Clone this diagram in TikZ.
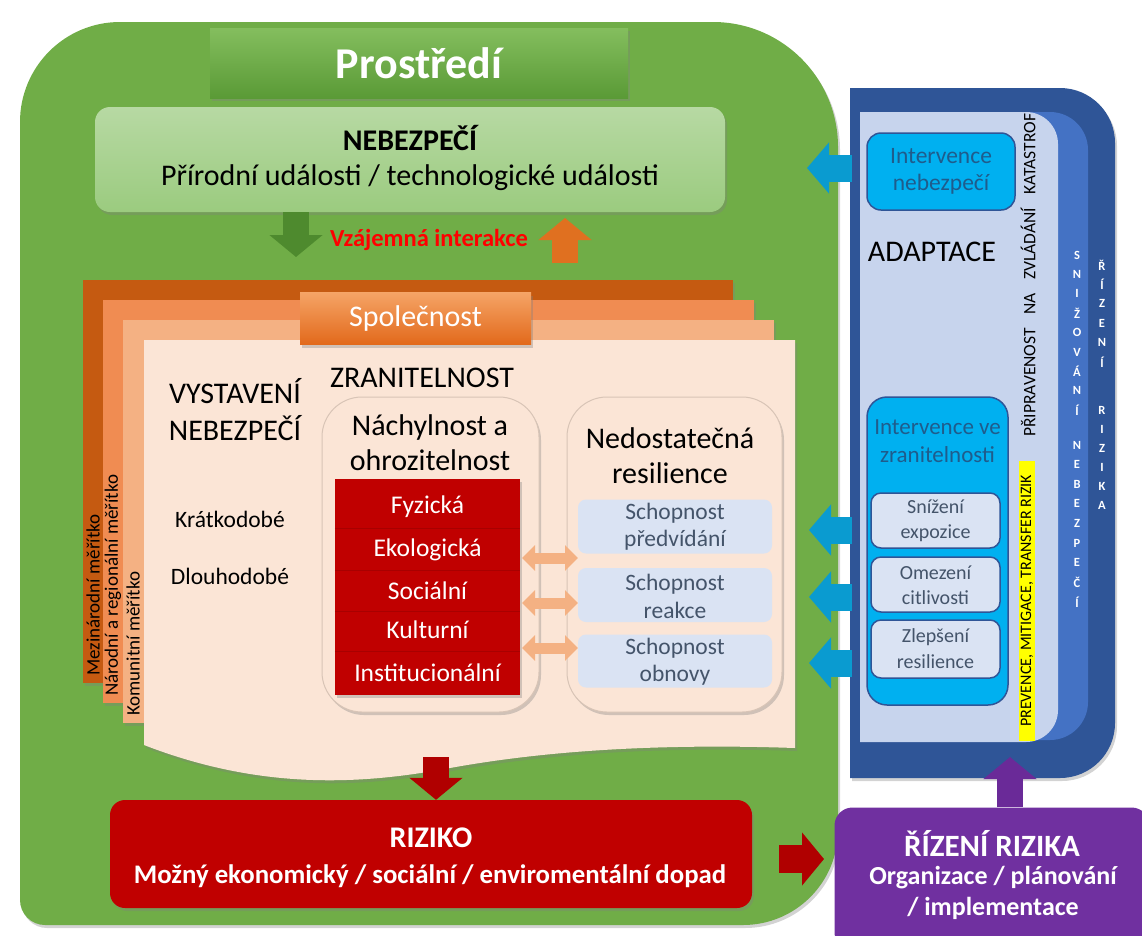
\documentclass[tikz,border=0pt]{standalone}
\usepackage{fontspec}
\setmainfont{Carlito}
\usetikzlibrary{arrows.meta,shadows,calc}
\definecolor{envgreen}{HTML}{70AD47}
\definecolor{hdrtop}{HTML}{84BE5E}
\definecolor{hdrbot}{HTML}{5A9A36}
\definecolor{nebtop}{HTML}{B7D9A3}
\definecolor{nebbot}{HTML}{9BCB7F}
\definecolor{pgA}{HTML}{C55A11}
\definecolor{pgB}{HTML}{F08C52}
\definecolor{pgC}{HTML}{F4B183}
\definecolor{pgD}{HTML}{FBE5D6}
\definecolor{spoltop}{HTML}{F5A466}
\definecolor{spolbot}{HTML}{E2691B}
\definecolor{riskred}{HTML}{C00000}
\definecolor{lblue}{HTML}{DAE3F3}
\definecolor{slate}{HTML}{44546A}
\definecolor{dblue}{HTML}{2F5597}
\definecolor{mblue}{HTML}{4472C4}
\definecolor{pblue}{HTML}{C7D4ED}
\definecolor{cyanbox}{HTML}{00B0F0}
\definecolor{cyantext}{HTML}{1F5C8C}
\definecolor{purp}{HTML}{7030A0}
\definecolor{peach}{HTML}{F4B183}
\definecolor{arrblue}{HTML}{0A9BD0}
\definecolor{arrgreen}{HTML}{4E8A2E}
\definecolor{arrorange}{HTML}{E07020}
\definecolor{arrred}{HTML}{B00000}
\definecolor{arrpurp}{HTML}{6A2A98}
\definecolor{hiyellow}{HTML}{FFFF00}
\definecolor{edgegray}{HTML}{D8C4B6}
\definecolor{sepred}{HTML}{A80000}
\definecolor{vzred}{HTML}{FF0000}
\begin{document}
\begin{tikzpicture}[x=1pt,y=-1pt,
  lbl/.style={inner sep=0pt, align=center},
  soft/.style={drop shadow={opacity=0.35, shadow xshift=2pt, shadow yshift=-3pt}},
  blk/.style={line width=26pt, -{Triangle[width=52pt,length=22pt]}},
  barr/.style={line width=27pt, arrblue, -{Triangle[width=50pt,length=22pt]}},
  dbl/.style={line width=11pt, peach, {Triangle[width=25pt,length=13pt]}-{Triangle[width=25pt,length=13pt]}},
  boxr/.style={rounded corners=#1, inner sep=0pt},
  letter/.style={inner sep=0pt, text=white, font=\fontsize{12.5}{13}\selectfont\bfseries},
  redtxt/.style={lbl, text=white, font=\fontsize{25.5}{28}\selectfont},
  pagetxt/.style={lbl, rotate=90, anchor=west, font=\fontsize{19}{22}\selectfont},
]
\useasboundingbox (0,0) rectangle (1142,935);
\clip (0,0) rectangle (1142,935);

% ---------- environment background ----------
\fill[envgreen, soft] (20,500) [rounded corners=100pt] -- (20,22) [rounded corners=125pt] -- (838,22) [rounded corners=95pt] -- (838,925) [rounded corners=25pt] -- (20,925) -- cycle;

\node[lbl, minimum width=418pt, minimum height=70pt, top color=hdrtop, bottom color=hdrbot, soft, text=white, font=\fontsize{44}{48}\selectfont\bfseries] (prost) at (419,63) {Prostředí};

\node[boxr=15pt, minimum width=630pt, minimum height=105pt, top color=nebtop, bottom color=nebbot, soft] (neb) at (410,159.5) {};
\node[lbl, font=\fontsize{30}{34}\selectfont\bfseries] (nebT1) at (410,138) {NEBEZPEČÍ};
\node[lbl, font=\fontsize{30}{34}\selectfont] (nebT2) at (410,178) {Přírodní události / technologické události};

% ---------- right panel ----------
\fill[dblue, soft] (850,88) [rounded corners=55pt] -- (1115,88) -- (1115,778) [sharp corners] -- (850,778) -- cycle;
\fill[mblue] (860,112) [rounded corners=38pt] -- (1088,112) -- (1088,740) [sharp corners] -- (860,740) -- cycle;
\fill[pblue] (860,112) [rounded corners=32pt] -- (1058,112) -- (1058,742) [sharp corners] -- (860,742) -- cycle;

\node[boxr=14pt, minimum width=148pt, minimum height=77pt, fill=cyanbox, draw=dblue, line width=1.5pt] (intN) at (941,171.5) {};
\node[lbl, text=cyantext, font=\fontsize{23.5}{27}\selectfont] (intNT) at (941,171.5) {Intervence\\nebezpečí};

\node[lbl, font=\fontsize{30}{34}\selectfont] (adapt) at (932,252) {ADAPTACE};

\node[boxr=20pt, minimum width=141pt, minimum height=308pt, fill=cyanbox, draw=dblue, line width=1.5pt] (intZ) at (937.5,551) {};
\node[lbl, text=cyantext, font=\fontsize{23}{28}\selectfont] (intZT) at (937.5,441) {Intervence ve\\zranitelnosti};

\node[boxr=10pt, minimum width=129pt, minimum height=55pt, fill=lblue, draw=dblue, line width=1.5pt] (sniz) at (935.5,520.5) {};
\node[lbl, text=slate, font=\fontsize{20}{25}\selectfont] (snizT) at (935.5,521) {Snížení\\expozice};
\node[boxr=10pt, minimum width=129pt, minimum height=55pt, fill=lblue, draw=dblue, line width=1.5pt] (omez) at (935.5,584.5) {};
\node[lbl, text=slate, font=\fontsize{20}{25}\selectfont] (omezT) at (935.5,585) {Omezení\\citlivosti};
\node[boxr=10pt, minimum width=129pt, minimum height=58pt, fill=lblue, draw=dblue, line width=1.5pt] (zlep) at (935.5,649) {};
\node[lbl, text=slate, font=\fontsize{20}{26}\selectfont] (zlepT) at (935.5,649) {Zlepšení\\resilience};

\node[lbl, rotate=90, anchor=west, font=\fontsize{17.5}{19}\selectfont] (prip) at (1028,437) {\makebox[323pt]{PŘIPRAVENOST\hfill NA\hfill ZVLÁDÁNÍ\hfill KATASTROF}};
\node[lbl, rotate=90, anchor=west, fill=hiyellow, inner xsep=1pt, inner ysep=2pt, font=\fontsize{16}{18}\selectfont] (prev) at (1027,741) {\makebox[278pt]{PREVENCE, MITIGACE, TRANSFER RIZIK}};

\foreach \ch [count=\i from 0] in {S,N,I,Ž,O,V,Á,N,Í}
  \node[letter] (sa\i) at (1077,{255+19.4*\i}) {\ch};
\foreach \ch [count=\i from 0] in {N,E,B,E,Z,P,E,Č,Í}
  \node[letter] (sb\i) at (1077,{445+19.6*\i}) {\ch};
\foreach \ch [count=\i from 0] in {Ř,Í,Z,E,N,Í}
  \node[letter] (ra\i) at (1102,{265+19.4*\i}) {\ch};
\foreach \ch [count=\i from 0] in {R,I,Z,I,K,A}
  \node[letter] (rb\i) at (1102,{410+19*\i}) {\ch};

% ---------- society pages ----------
\fill[pgA, soft] (83,280) rectangle (733,683);
\fill[pgB, soft] (103,300) rectangle (754,703);
\fill[pgC, soft] (123,320) rectangle (774,723);
\fill[pgD, soft] (144,340) -- (795,340) -- (795,748) .. controls (680,744) and (560,748) .. (450,768) .. controls (360,785) and (260,790) .. (144,745) -- cycle;

\node[pagetxt] (mez) at (93,676) {Mezinárodní měřítko};
\node[pagetxt] (nar) at (113,696) {Národní a regionální měřítko};
\node[pagetxt] (kom) at (133,716) {Komunitní měřítko};

\node[lbl, minimum width=231pt, minimum height=52pt, top color=spoltop, bottom color=spolbot, soft, text=white, font=\fontsize{30}{34}\selectfont] (spol) at (415.5,318.5) {Společnost};

\node[lbl, font=\fontsize{30}{37}\selectfont] (vyst) at (235,410) {VYSTAVENÍ\\NEBEZPEČÍ};
\node[lbl, font=\fontsize{30}{34}\selectfont] (zran) at (422,378) {ZRANITELNOST};
\node[lbl, font=\fontsize{23.5}{26}\selectfont] (krat) at (230,519) {Krátkodobé};
\node[lbl, font=\fontsize{23.5}{26}\selectfont] (dlou) at (230,576) {Dlouhodobé};

\node[boxr=40pt, minimum width=217pt, minimum height=315pt, fill=pgD, draw=edgegray, line width=1pt, soft] (nach) at (430.5,554.5) {};
\node[lbl, font=\fontsize{30}{35}\selectfont] (nachT) at (430,443) {Náchylnost a\\ohrozitelnost};

\node[boxr=40pt, minimum width=215pt, minimum height=315pt, fill=pgD, draw=edgegray, line width=1pt, soft] (ned) at (674.5,554.5) {};
\node[lbl, font=\fontsize{30}{35}\selectfont] (nedT) at (670,456) {Nedostatečná\\resilience};

\node[inner sep=0pt, minimum width=185pt, minimum height=216pt, fill=riskred, soft] (red) at (427.5,587) {};
\draw[sepred, line width=0.8pt] (red.west |- 0,528) -- (red.east |- 0,528);
\draw[sepred, line width=0.8pt] (red.west |- 0,570) -- (red.east |- 0,570);
\draw[sepred, line width=0.8pt] (red.west |- 0,611) -- (red.east |- 0,611);
\draw[sepred, line width=0.8pt] (red.west |- 0,651) -- (red.east |- 0,651);
\node[redtxt] (fyz) at (427.5,507) {Fyzická};
\node[redtxt] (eko) at (427.5,550) {Ekologická};
\node[redtxt] (soc) at (427.5,591) {Sociální};
\node[redtxt] (kul) at (427.5,630) {Kulturní};
\node[redtxt] (ins) at (427.5,673) {Institucionální};

\node[boxr=8pt, minimum width=194pt, minimum height=54pt, fill=lblue] (sch1) at (675,526.5) {};
\node[lbl, text=slate, font=\fontsize{23.5}{27}\selectfont] (sch1T) at (675,527) {Schopnost\\předvídání};
\node[boxr=8pt, minimum width=194pt, minimum height=54pt, fill=lblue] (sch2) at (675,595) {};
\node[lbl, text=slate, font=\fontsize{23.5}{28}\selectfont] (sch2T) at (675,596) {Schopnost\\reakce};
\node[boxr=8pt, minimum width=194pt, minimum height=53pt, fill=lblue] (sch3) at (675,661) {};
\node[lbl, text=slate, font=\fontsize{23.5}{27}\selectfont] (sch3T) at (675,662) {Schopnost\\obnovy};

\coordinate (d1a) at (522,558); \coordinate (d1b) at (578,558);
\coordinate (d2a) at (522,603); \coordinate (d2b) at (578,603);
\coordinate (d3a) at (522,648); \coordinate (d3b) at (578,648);
\draw[dbl] (d1a) -- (d1b);
\draw[dbl] (d2a) -- (d2b);
\draw[dbl] (d3a) -- (d3b);

% ---------- interaction arrows ----------
\coordinate (ga) at (296,257);
\draw[blk, arrgreen] (neb.south -| 296,0) -- (ga);
\coordinate (oa1) at (565,263); \coordinate (oa2) at (565,218);
\draw[blk, arrorange] (oa1) -- (oa2);
\node[lbl, text=vzred, font=\fontsize{24.5}{27}\selectfont\bfseries] (vz) at (429,240) {Vzájemná interakce};

% ---------- blue intervention arrows ----------
\coordinate (b0s) at (852,168); \coordinate (b0e) at (807,168);
\coordinate (b1s) at (852,530); \coordinate (b1e) at (809,530);
\coordinate (b2s) at (852,597); \coordinate (b2e) at (809,597);
\coordinate (b3s) at (852,663); \coordinate (b3e) at (809,663);
\draw[barr] (b0s) -- (b0e);
\draw[barr] (b1s) -- (b1e);
\draw[barr] (b2s) -- (b2e);
\draw[barr] (b3s) -- (b3e);

% ---------- risk ----------
\node[boxr=15pt, minimum width=642pt, minimum height=108pt, fill=riskred, soft] (riz) at (431,854) {};
\node[lbl, text=white, font=\fontsize{30}{34}\selectfont\bfseries] (rizT1) at (431,838) {RIZIKO};
\node[lbl, text=white, font=\fontsize{26.8}{30}\selectfont\bfseries] (rizT2) at (430,876) {Možný ekonomický / sociální / enviromentální dopad};

\coordinate (ra) at (436,757);
\draw[blk, arrred] (ra) -- (riz.north -| 436,0);

\node[boxr=18pt, minimum width=315pt, minimum height=143pt, fill=purp, soft] (rr) at (992,879) {};
\node[lbl, text=white, font=\fontsize{31}{34}\selectfont\bfseries] (rrT1) at (992,843) {ŘÍZENÍ RIZIKA};
\node[lbl, text=white, font=\fontsize{26}{31}\selectfont\bfseries] (rrT2) at (993,893) {Organizace / plánování\\/ implementace};

\coordinate (rs) at (779,859); \coordinate (re) at (824,859);
\draw[blk, arrred, line width=28pt] (rs) -- (re);

\coordinate (pe) at (1010,757);
\draw[blk, arrpurp] (rr.north -| 1010,0) -- (pe);
\end{tikzpicture}
\end{document}
